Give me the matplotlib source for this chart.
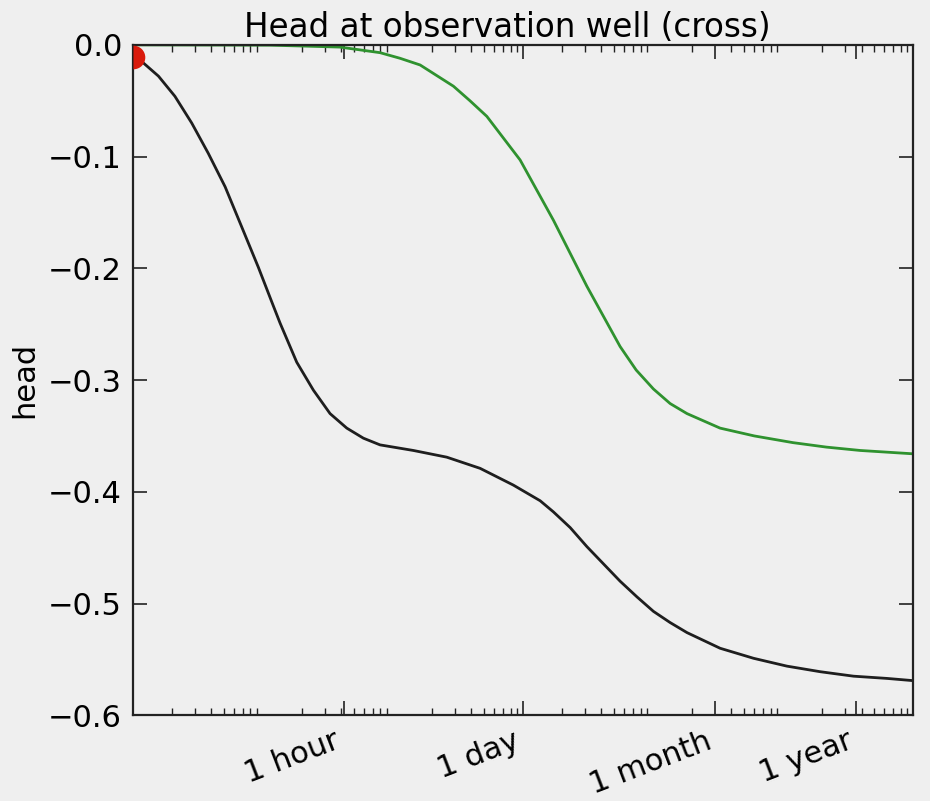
import matplotlib
matplotlib.use("Agg")
import matplotlib.pyplot as plt
from matplotlib.ticker import LogLocator, NullFormatter, FuncFormatter

# time in days, head values
t_black = [0.001, 0.00117, 0.00157, 0.00210, 0.00283, 0.00379, 0.00511, 0.00686,
           0.0092, 0.01167, 0.01352, 0.01816, 0.02438, 0.03276, 0.04406, 0.05911,
           0.0794, 0.1432, 0.2588, 0.467, 0.8414, 1.352, 1.711, 2.3, 3.09, 5.57, 7.5,
           10.05, 13.5, 18.2, 32.7, 59.2, 106.7, 192.6, 347.5, 628.0, 1000.0]
h_black = [-0.010, -0.015, -0.028, -0.046, -0.070, -0.097, -0.127, -0.163,
           -0.199, -0.230, -0.249, -0.284, -0.309, -0.330, -0.343, -0.352,
           -0.358, -0.363, -0.369, -0.379, -0.394, -0.408, -0.418, -0.432, -0.449,
           -0.480, -0.494, -0.507, -0.517, -0.526, -0.540, -0.549, -0.556, -0.561,
           -0.565, -0.567, -0.569]

t_green = [0.001, 0.0113, 0.0193, 0.039, 0.0794, 0.113, 0.1614, 0.2911, 0.39,
           0.526, 0.948, 1.711, 3.09, 5.57, 7.4, 10.05, 13.5, 18.2, 32.7, 60.0,
           119.0, 215.0, 391.0, 1000.0]
h_green = [0.0, -0.0003, -0.001, -0.002, -0.007, -0.012, -0.018, -0.037, -0.050,
           -0.064, -0.103, -0.157, -0.216, -0.270, -0.291, -0.308, -0.321, -0.330,
           -0.343, -0.350, -0.356, -0.360, -0.363, -0.366]

dot_t = [0.001]
dot_h = [-0.011]

tick_pos = [1 / 24, 1.0, 30.0, 365.0]
tick_lab = ["1 hour", "1 day", "1 month", "1 year"]

bg = "#efefef"
fig = plt.figure(figsize=(9.3, 8.01), dpi=100, facecolor=bg)
ax = fig.add_axes([0.143, 0.107, 0.839, 0.837], facecolor=bg)

ax.plot(t_black, h_black, color="#1e1e1e", lw=2.0)
ax.plot(t_green, h_green, color="#2f922f", lw=2.0)
# the dot sits on the left spine, only its right half shows
ax.plot(dot_t, dot_h, "o", color="#d91a0c", ms=17, mew=0, fillstyle="right", zorder=3)

ax.set_xscale("log")
ax.set_xlim(1e-3, 1e3)
ax.set_ylim(-0.6, 0.0)

ax.set_xticks(tick_pos)
ax.set_xticklabels(tick_lab, rotation=21, ha="right", fontsize=22)
ax.xaxis.set_minor_locator(LogLocator(base=10, subs=range(2, 10), numticks=20))
ax.xaxis.set_minor_formatter(NullFormatter())

ax.set_yticks([-0.6, -0.5, -0.4, -0.3, -0.2, -0.1, 0.0])
ax.yaxis.set_major_formatter(FuncFormatter(lambda v, p: f"{v:.1f}".replace("-", "\u2212")))
ax.tick_params(axis="y", labelsize=22)

ax.tick_params(which="both", direction="in", top=True, right=True, color="#222222")
ax.tick_params(which="major", length=10, width=1.2, pad=8)
ax.tick_params(which="minor", length=5, width=1.0)
for s in ax.spines.values():
    s.set_linewidth(1.6)
    s.set_color("#222222")

ax.set_ylabel("head", fontsize=22, labelpad=6)
ax.set_title("Head at observation well (cross)", fontsize=23.5, pad=6)
ax.title.set_x(0.48)

fig.savefig("out.png", dpi=100, facecolor=bg)
